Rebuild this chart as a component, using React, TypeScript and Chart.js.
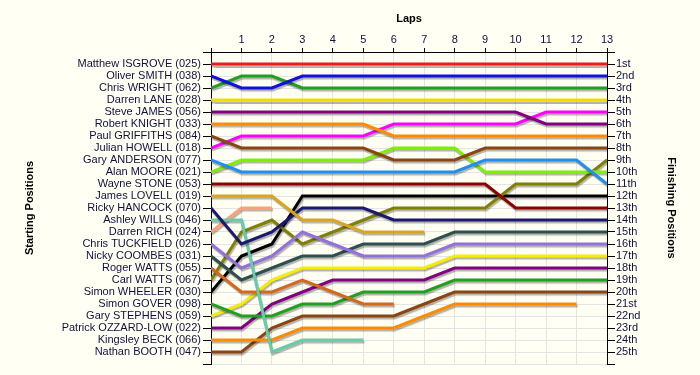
import React, { useEffect, useRef } from 'react';
import { Chart, registerables } from 'chart.js';

Chart.register(...registerables);

const laps = [0, 1, 2, 3, 4, 5, 6, 7, 8, 9, 10, 11, 12, 13];

const startingNames = [
  'Matthew ISGROVE (025)',
  'Oliver SMITH (038)',
  'Chris WRIGHT (062)',
  'Darren LANE (028)',
  'Steve JAMES (056)',
  'Robert KNIGHT (033)',
  'Paul GRIFFITHS (084)',
  'Julian HOWELL (018)',
  'Gary ANDERSON (077)',
  'Alan MOORE (021)',
  'Wayne STONE (053)',
  'James LOVELL (019)',
  'Ricky HANCOCK (070)',
  'Ashley WILLS (046)',
  'Darren RICH (024)',
  'Chris TUCKFIELD (026)',
  'Nicky COOMBES (031)',
  'Roger WATTS (055)',
  'Carl WATTS (067)',
  'Simon WHEELER (030)',
  'Simon GOVER (098)',
  'Gary STEPHENS (059)',
  'Patrick OZZARD-LOW (022)',
  'Kingsley BECK (066)',
  'Nathan BOOTH (047)',
];

const finishingLabels = [
  '1st', '2nd', '3rd', '4th', '5th', '6th', '7th', '8th', '9th', '10th',
  '11th', '12th', '13th', '14th', '15th', '16th', '17th', '18th', '19th', '20th',
  '21st', '22nd', '23rd', '24th', '25th',
];

// position of each driver at each lap (index = lap); shorter arrays = retired
const lapPositions: number[][] = [
  [1, 1, 1, 1, 1, 1, 1, 1, 1, 1, 1, 1, 1, 1],
  [2, 3, 3, 2, 2, 2, 2, 2, 2, 2, 2, 2, 2, 2],
  [3, 2, 2, 3, 3, 3, 3, 3, 3, 3, 3, 3, 3, 3],
  [4, 4, 4, 4, 4, 4, 4, 4, 4, 4, 4, 4, 4, 4],
  [5, 5, 5, 5, 5, 5, 5, 5, 5, 5, 5, 6, 6, 6],
  [6, 6, 6, 6, 6, 6, 7, 7, 7, 7, 7, 7, 7, 7],
  [7, 8, 8, 8, 8, 8, 9, 9, 9, 8, 8, 8, 8, 8],
  [8, 7, 7, 7, 7, 7, 6, 6, 6, 6, 6, 5, 5, 5],
  [9, 10, 10, 10, 10, 10, 10, 10, 10, 9, 9, 9, 9, 11],
  [10, 9, 9, 9, 9, 9, 8, 8, 8, 10, 10, 10, 10, 10],
  [11, 11, 11, 11, 11, 11, 11, 11, 11, 11, 13, 13, 13, 13],
  [12, 12, 12, 14, 14, 15, 15, 15],
  [13, 16, 15, 13, 13, 13, 14, 14, 14, 14, 14, 14, 14, 14],
  [14, 14, 25, 24, 24, 24],
  [15, 13, 13],
  [16, 18, 17, 15, 16, 17, 17, 17, 16, 16, 16, 16, 16, 16],
  [17, 19, 18, 17, 17, 16, 16, 16, 15, 15, 15, 15, 15, 15],
  [18, 20, 20, 19, 20, 21, 21],
  [19, 15, 14, 16, 15, 14, 13, 13, 13, 13, 11, 11, 11, 9],
  [20, 17, 16, 12, 12, 12, 12, 12, 12, 12, 12, 12, 12, 12],
  [21, 22, 22, 21, 21, 20, 20, 20, 19, 19, 19, 19, 19, 19],
  [22, 21, 19, 18, 18, 18, 18, 18, 17, 17, 17, 17, 17, 17],
  [23, 23, 21, 20, 19, 19, 19, 19, 18, 18, 18, 18, 18, 18],
  [24, 24, 24, 23, 23, 23, 23, 22, 21, 21, 21, 21, 21],
  [25, 25, 23, 22, 22, 22, 22, 21, 20, 20, 20, 20, 20, 20],
];

const lineColors = [
  '#f01818', '#1010e0', '#20a020', '#f0dc00', '#800080',
  '#ff8c00', '#8b4513', '#ff00ff', '#2090f0', '#7cf000',
  '#8b0000', '#daa520', '#191970', '#66cdaa', '#ffa07a',
  '#9370db', '#2f4f4f', '#d2691e', '#808000', '#000000',
  '#20a020', '#f8ec00', '#800080', '#ff8c00', '#8b4513',
];

const BG = '#fffff4';
const TEXT = '#101040';
const GRID = '#e4e4e4';
const FONT = '"Liberation Sans", Arial, sans-serif';

const bgPlugin = {
  id: 'bgFill',
  beforeDraw(chart: any) {
    const { ctx, width, height } = chart;
    ctx.save();
    ctx.fillStyle = BG;
    ctx.fillRect(0, 0, width, height);
    ctx.restore();
  },
};

const shadowPlugin = {
  id: 'lineShadow',
  beforeDatasetDraw(chart: any) {
    const c = chart.ctx;
    c.save();
    c.shadowColor = 'rgba(0,0,0,0.3)';
    c.shadowOffsetX = 1;
    c.shadowOffsetY = 2;
    c.shadowBlur = 1;
  },
  afterDatasetDraw(chart: any) {
    chart.ctx.restore();
  },
};

export default function App() {
  const ref = useRef<HTMLCanvasElement | null>(null);

  useEffect(() => {
    document.body.style.margin = '0';
    document.body.style.background = BG;
    const canvas = ref.current!;
    const datasets = lapPositions.map((pos, i) => ({
      label: startingNames[i],
      data: pos.map((p, k) => ({ x: laps[k], y: p })),
      borderColor: lineColors[i],
      backgroundColor: lineColors[i],
      borderWidth: 3,
      pointRadius: 0,
      tension: 0,
      fill: false,
    }));

    const tickFont = { family: FONT, size: 11 };
    const titleFont = { family: FONT, size: 11, weight: 'bold' as const };

    const chart = new Chart(canvas, {
      type: 'line',
      data: { datasets },
      plugins: [bgPlugin, shadowPlugin],
      options: {
        animation: false,
        responsive: false,
        devicePixelRatio: 1,
        layout: { padding: { left: 19, right: 18, top: 8, bottom: 11 } },
        plugins: { legend: { display: false }, tooltip: { enabled: false } },
        scales: {
          x: {
            type: 'linear',
            position: 'top',
            min: 0,
            max: 13,
            ticks: {
              stepSize: 1,
              autoSkip: false,
              maxRotation: 0,
              padding: 1,
              color: TEXT,
              font: tickFont,
              callback: (v: any) => (v === 0 ? '' : String(v)),
            },
            grid: { color: GRID, tickColor: '#000', tickLength: 4 },
            border: { color: '#000', width: 1 },
            title: { display: true, text: 'Laps', color: '#000', font: titleFont, padding: { top: 4, bottom: 4 } },
            afterFit(s: any) { s.height = 44; },
          },
          y: {
            type: 'linear',
            position: 'left',
            min: 0,
            max: 26,
            reverse: true,
            ticks: {
              stepSize: 1,
              autoSkip: false,
              padding: 2,
              color: TEXT,
              font: tickFont,
              callback: (v: any) => startingNames[v - 1] ?? '',
            },
            grid: { color: GRID, tickColor: '#000', tickLength: 8 },
            border: { color: '#000', width: 1 },
            title: { display: true, text: 'Starting Positions', color: '#000', font: titleFont, padding: { top: 4, bottom: 4 } },
            afterFit(s: any) { s.width = 192; },
          },
          y2: {
            type: 'linear',
            position: 'right',
            min: 0,
            max: 26,
            reverse: true,
            ticks: {
              stepSize: 1,
              autoSkip: false,
              padding: 1,
              color: TEXT,
              font: tickFont,
              callback: (v: any) => finishingLabels[v - 1] ?? '',
            },
            grid: { drawOnChartArea: false, tickColor: '#000', tickLength: 8 },
            border: { color: '#000', width: 1 },
            title: { display: true, text: 'Finishing Positions', color: '#000', font: titleFont, padding: { top: 4, bottom: 4 } },
            afterFit(s: any) { s.width = 75; },
          },
        },
      } as any,
    });
    return () => chart.destroy();
  }, []);

  return (
    <div style={{ position: 'fixed', left: 0, top: 0, width: 700, height: 375 }}>
      <canvas ref={ref} width={700} height={375} style={{ width: 700, height: 375 }} />
    </div>
  );
}
